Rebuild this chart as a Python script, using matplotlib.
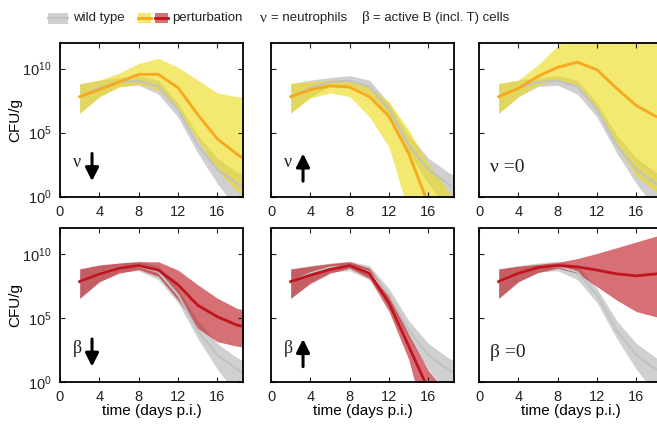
import matplotlib.pyplot as plt
import numpy as np
from matplotlib.patches import Rectangle
from matplotlib.lines import Line2D
from matplotlib.ticker import NullLocator

plt.rcParams['font.family'] = ['Liberation Sans', 'DejaVu Sans']
serif = ['Liberation Serif', 'DejaVu Serif']

# days post infection
days = np.array([2, 4, 6, 8, 10, 12, 14, 16, 18, 19])

# all values are log10(CFU/g)
wt_mean = [7.8, 8.5, 8.95, 9.05, 8.6, 6.8, 4.0, 2.1, 1.0, 0.5]
wt_hi = [8.8, 9.1, 9.3, 9.45, 9.1, 7.3, 4.8, 3.0, 1.9, 1.5]
wt_lo = [6.5, 7.8, 8.6, 8.7, 8.0, 6.2, 3.4, 1.0, -1.0, -2.0]

nu_down_mean = [7.8, 8.35, 8.95, 9.55, 9.55, 8.5, 6.4, 4.5, 3.3, 2.8]
nu_down_hi = [8.8, 9.1, 9.65, 10.4, 10.8, 10.1, 9.1, 8.1, 7.8, 7.75]
nu_down_lo = [6.5, 7.8, 8.55, 8.8, 8.3, 6.7, 4.4, 2.0, 0.4, -0.3]

nu_up_mean = [7.8, 8.35, 8.65, 8.55, 7.8, 6.25, 3.35, -0.6, -4.0, -5.5]
nu_up_hi = [8.85, 9.0, 9.1, 9.15, 8.6, 7.4, 5.2, 2.55, 0.45, -0.5]
nu_up_lo = [6.55, 7.7, 8.1, 7.8, 6.25, 3.85, -1.3, -6.0, -9.0, -10.0]

nu_zero_mean = [7.8, 8.45, 9.4, 10.1, 10.5, 9.9, 8.45, 7.1, 6.25, 6.0]
nu_zero_hi = [8.85, 9.1, 10.3, 11.8, 12.8, 13.2, 13.6, 13.8, 14.0, 14.0]
nu_zero_lo = [6.5, 7.8, 8.7, 9.1, 8.6, 6.6, 3.9, 1.6, 0.35, -0.3]

beta_down_mean = [7.85, 8.45, 8.9, 9.1, 8.75, 7.6, 6.0, 5.1, 4.45, 4.3]
beta_down_hi = [8.85, 9.15, 9.3, 9.4, 9.4, 8.75, 7.6, 6.55, 5.75, 5.6]
beta_down_lo = [6.55, 7.85, 8.5, 8.8, 8.25, 6.4, 4.2, 3.15, 2.8, 2.7]

beta_up_mean = [7.85, 8.35, 8.8, 9.1, 8.5, 6.15, 2.8, -0.6, -4.0, -5.5]
beta_up_hi = [8.85, 9.05, 9.25, 9.4, 8.9, 6.8, 3.7, 0.9, -1.0, -2.0]
beta_up_lo = [6.55, 7.7, 8.5, 8.9, 8.1, 5.5, 1.75, -4.0, -8.0, -9.0]

beta_zero_mean = [7.85, 8.5, 8.95, 9.1, 9.0, 8.75, 8.45, 8.3, 8.45, 8.6]
beta_zero_hi = [8.85, 9.05, 9.2, 9.35, 9.65, 10.05, 10.5, 10.95, 11.4, 11.6]
beta_zero_lo = [6.55, 7.85, 8.55, 8.9, 8.5, 7.45, 6.4, 5.5, 5.1, 5.1]

labels = ['ν', 'ν', 'ν =0', 'β', 'β', 'β =0']
arrows = ['down', 'up', None, 'down', 'up', None]

yellow_band, yellow_line = '#ecdc1c', '#f7a81b'
red_band, red_line = '#be1c24', '#c0141e'
gray_band, gray_line = '#d0d0d0', '#c2c2c2'

panels = [
    (nu_down_mean, nu_down_hi, nu_down_lo, yellow_band, yellow_line),
    (nu_up_mean, nu_up_hi, nu_up_lo, yellow_band, yellow_line),
    (nu_zero_mean, nu_zero_hi, nu_zero_lo, yellow_band, yellow_line),
    (beta_down_mean, beta_down_hi, beta_down_lo, red_band, red_line),
    (beta_up_mean, beta_up_hi, beta_up_lo, red_band, red_line),
    (beta_zero_mean, beta_zero_hi, beta_zero_lo, red_band, red_line),
]

W, H = 657, 425
fig = plt.figure(figsize=(W / 100, H / 100), dpi=100)
lefts = [60, 271, 479]
tops = [43, 228.5]
aw, ah = 183, 153.5

for i, (mean, hi, lo, band, line) in enumerate(panels):
    row, col = divmod(i, 3)
    ax = fig.add_axes([lefts[col] / W, 1 - (tops[row] + ah) / H, aw / W, ah / H])
    ax.fill_between(days, 10 ** np.array(wt_lo), 10 ** np.array(wt_hi), color=gray_band, lw=0)
    ax.plot(days, 10 ** np.array(wt_mean), color=gray_line, lw=1.5)
    ax.fill_between(days, 10 ** np.array(lo), 10 ** np.array(hi), color=band, alpha=0.63, lw=0)
    ax.plot(days, 10 ** np.array(mean), color=line, lw=2)
    ax.set_yscale('log')
    ax.set_ylim(1, 1e12)
    ax.set_xlim(0, 18.6)
    ax.set_xticks([0, 4, 8, 12, 16])
    ax.set_yticks([1, 1e5, 1e10])
    ax.yaxis.set_minor_locator(NullLocator())
    ax.tick_params(direction='in', top=True, right=True, length=3.5, width=0.8,
                   labelsize=10.5, pad=6, colors='#222222')
    for s in ax.spines.values():
        s.set_linewidth(1.3)
    if col == 0:
        ax.set_ylabel('CFU/g', fontsize=11, labelpad=0)
    else:
        ax.tick_params(labelleft=False)
    if row == 1:
        ax.set_xlabel('time (days p.i.)', fontsize=11, labelpad=0)

    if arrows[i] is None:
        ax.text(0.06, 0.19, labels[i], transform=ax.transAxes, fontsize=14,
                family=serif, va='center', color='#222222')
    else:
        ax.text(0.07, 0.22, labels[i], transform=ax.transAxes, fontsize=13,
                family=serif, va='center', color='#222222')
        y0, y1 = (0.28, 0.10) if arrows[i] == 'down' else (0.10, 0.28)
        ax.annotate('', xy=(0.175, y1), xytext=(0.175, y0), xycoords='axes fraction',
                    arrowprops=dict(arrowstyle='-|>,head_length=0.8,head_width=0.4',
                                    lw=2.2, color='k', mutation_scale=10,
                                    shrinkA=0, shrinkB=0))

# legend across the top
ly = 1 - 18 / H
fig.add_artist(Rectangle((48 / W, 1 - 24 / H), 20 / W, 11 / H, transform=fig.transFigure,
                         color=gray_band, lw=0))
fig.add_artist(Line2D([48 / W, 68 / W], [ly, ly], transform=fig.transFigure, color=gray_line, lw=1.5))
fig.text(73 / W, ly, 'wild type', fontsize=9.5, va='center', color='#222222')
for x0, b, l in [(138, yellow_band, yellow_line), (155, red_band, red_line)]:
    fig.add_artist(Rectangle((x0 / W, 1 - 23 / H), 13 / W, 10 / H, transform=fig.transFigure,
                             color=b, alpha=0.63, lw=0))
    fig.add_artist(Line2D([x0 / W, (x0 + 13) / W], [ly, ly], transform=fig.transFigure, color=l, lw=2))
fig.text(172 / W, ly, 'perturbation', fontsize=9.5, va='center', color='#222222')
fig.text(260 / W, ly, 'ν', fontsize=11, va='center', family=serif, color='#222222')
fig.text(271 / W, ly, '= neutrophils', fontsize=9.5, va='center', color='#222222')
fig.text(362 / W, ly, 'β', fontsize=11, va='center', family=serif, color='#222222')
fig.text(373 / W, ly, '= active B (incl. T) cells', fontsize=9.5, va='center', color='#222222')

fig.savefig('out.png', dpi=100)
